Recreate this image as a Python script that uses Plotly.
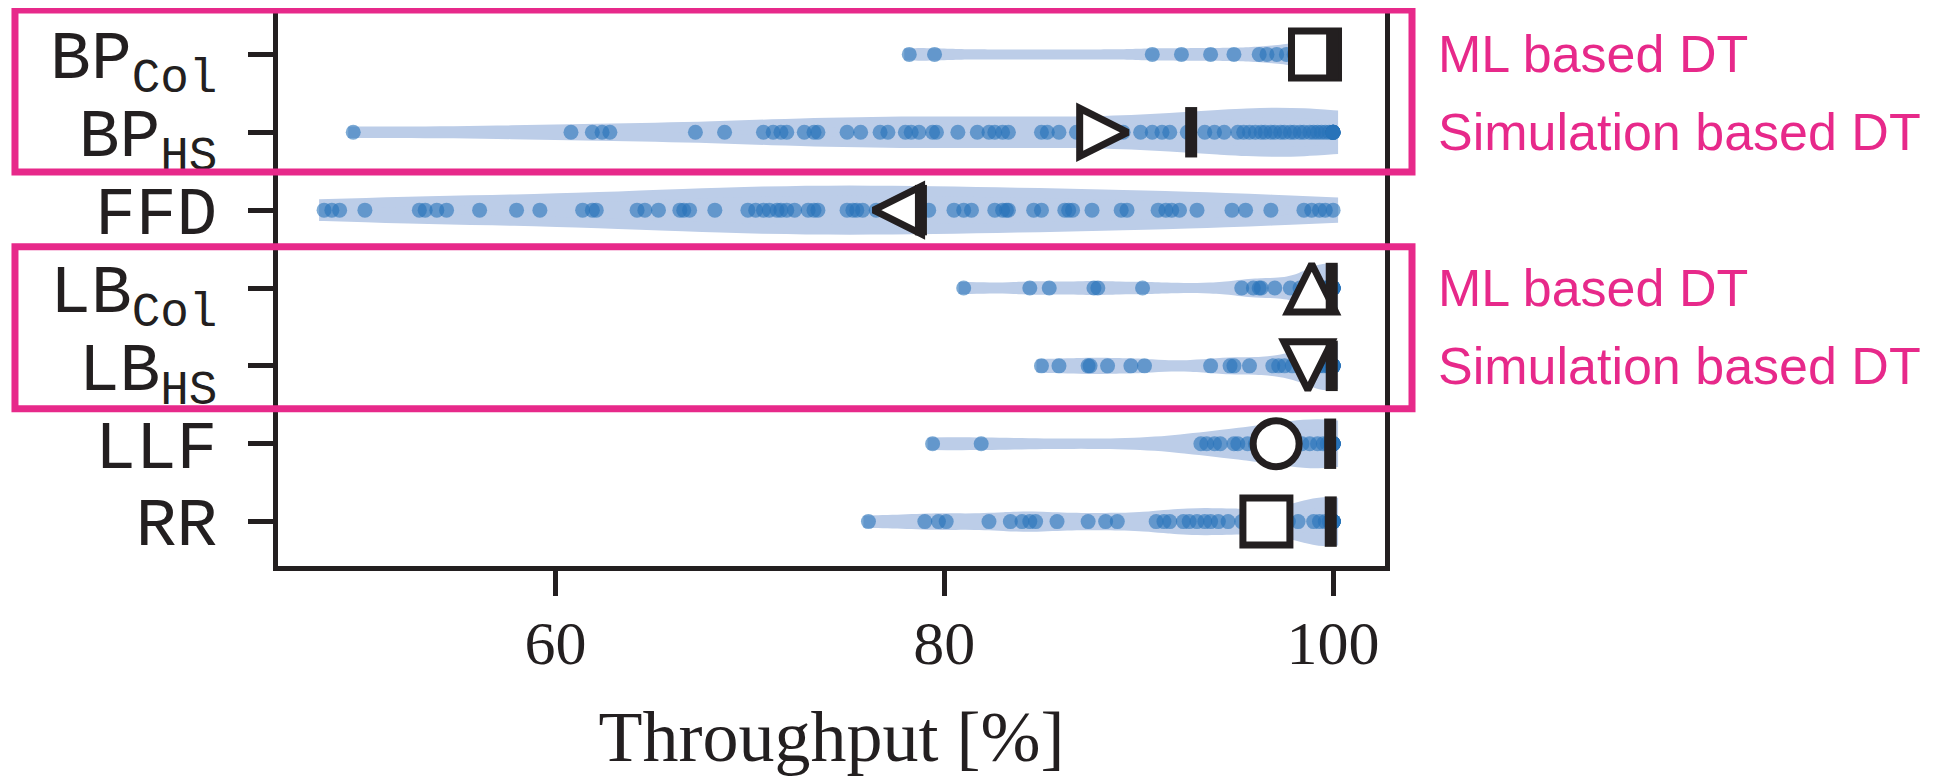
import numpy as np
import plotly.graph_objects as go

# ---------------- data ----------------
categories = ["BP<sub>Col</sub>", "BP<sub>HS</sub>", "FFD", "LB<sub>Col</sub>",
              "LB<sub>HS</sub>", "LLF", "RR"]

bp_col = [78.2, 79.5, 90.7, 92.2, 93.7, 94.9, 96.2, 96.6, 97.1, 97.6, 98.0, 98.3,
          98.6, 98.9, 99.1, 99.3, 99.5, 99.6, 99.7, 99.8, 99.9, 99.9,
          100.0, 100.0, 100.0, 100.0, 100.0, 100.0, 100.0, 100.0, 100.0, 100.0,
          100.0, 100.0, 100.0, 100.0, 100.0]

bp_hs = [49.6, 60.8, 61.9, 62.4, 62.8, 67.2, 68.7, 70.7, 71.2, 71.6, 71.9, 72.8,
         73.3, 73.5, 75.0, 75.7, 76.7, 77.1, 78.0, 78.3, 78.7, 79.4, 79.6, 80.7,
         81.7, 82.3, 82.6, 83.0, 83.3, 85.0, 85.3, 85.9, 86.8, 87.6, 88.4, 89.2,
         90.1, 90.7, 91.2, 91.6, 92.5, 93.4, 93.9, 94.4, 95.1, 95.4, 95.7, 96.0,
         96.3, 96.5, 96.8, 97.0, 97.3, 97.5, 97.8, 98.0, 98.3, 98.5, 98.8, 99.0,
         99.2, 99.4, 99.6, 99.8, 100.0, 100.0, 100.0, 100.0, 100.0, 100.0, 100.0,
         100.0]

ffd = [48.1, 48.5, 48.9, 50.2, 53.0, 53.3, 53.9, 54.4, 56.1, 58.0, 59.2, 61.4,
       61.9, 62.1, 64.2, 64.6, 65.3, 66.4, 66.6, 66.9, 68.2, 69.9, 70.3, 70.7,
       71.0, 71.4, 71.6, 71.9, 72.3, 73.0, 73.3, 73.5, 75.0, 75.3, 75.5, 75.8,
       76.5, 77.0, 77.8, 78.3, 79.2, 80.5, 81.0, 81.4, 82.6, 83.0, 83.2, 83.3,
       84.6, 85.0, 86.2, 86.4, 86.6, 87.6, 89.1, 89.4, 91.0, 91.4, 91.7, 92.1,
       93.0, 94.8, 95.5, 96.8, 98.5, 98.9, 99.3, 99.6, 100.0]

lb_col = [81.0, 84.4, 85.4, 87.7, 87.9, 90.2, 95.3, 95.9, 96.2, 96.3, 97.0, 97.8,
          98.3, 98.6, 98.9, 99.1, 99.3, 99.5, 99.6, 99.7, 99.8, 99.9,
          100.0, 100.0, 100.0, 100.0, 100.0, 100.0, 100.0, 100.0, 100.0, 100.0,
          100.0, 100.0]

lb_hs = [85.0, 85.9, 87.4, 87.5, 88.4, 89.6, 90.3, 93.7, 94.7, 94.9, 95.7, 96.9,
         97.2, 97.5, 97.9, 98.3, 98.6, 98.9, 99.1, 99.3, 99.5, 99.7, 99.8, 99.9,
         100.0, 100.0, 100.0, 100.0, 100.0, 100.0, 100.0, 100.0, 100.0, 100.0,
         100.0, 100.0]

llf = [79.4, 81.9, 93.2, 93.5, 93.9, 94.2, 94.9, 95.1, 95.6, 96.0, 96.4, 96.8,
       97.2, 97.6, 98.0, 98.4, 98.8, 99.2, 99.5, 99.7, 99.85,
       100.0, 100.0, 100.0, 100.0, 100.0, 100.0, 100.0, 100.0, 100.0, 100.0,
       100.0, 100.0, 100.0, 100.0]

rr = [76.1, 79.0, 79.7, 80.1, 82.3, 83.4, 84.0, 84.4, 84.7, 85.8, 87.4, 88.3,
      88.9, 90.9, 91.3, 91.6, 92.3, 92.6, 93.0, 93.4, 93.7, 94.1, 94.6, 95.3,
      95.8, 96.3, 96.8, 97.3, 97.7, 98.2, 99.0, 99.3, 99.6, 99.8,
      100.0, 100.0, 100.0, 100.0, 100.0, 100.0, 100.0, 100.0, 100.0, 100.0,
      100.0, 100.0, 100.0, 100.0]

series = [bp_col, bp_hs, ffd, lb_col, lb_hs, llf, rr]

mean_values = [99.07, 88.2, 77.6, 98.9, 98.7, 97.07, 96.57]
median_values = [99.95, 92.7, 78.8, 99.93, 99.93, 99.85, 99.88]

x_ticks = [60, 80, 100]
x_title = "Throughput [%]"
group_labels = ["ML based DT", "Simulation based DT", "ML based DT", "Simulation based DT"]
group_label_rows = [0, 1, 3, 4]
box_row_groups = [(0, 1), (3, 4)]

# ---------------- style ----------------
# arrow-* symbols have their tip at the anchor; tip_dir = direction of the tip
mean_symbols = ["square", "arrow-right", "arrow-left", "arrow-up",
                "arrow-down", "circle", "square"]
mean_sizes = [47, 48, 48, 48, 48, 46, 47]
tip_dir = [(0, 0), (1, 0), (-1, 0), (0, -1), (0, 1), (0, 0), (0, 0)]
bandwidths = [0.9, 4.5, 6.5, 1.0, 1.0, 2.3, 1.5]

VIOLIN = "#bccde8"
DOT = "rgba(40,115,185,0.6)"
INK = "#231f20"
PINK = "#e7298a"
X_RANGE = [45.73, 102.67]
Y_RANGE = [6.57, -0.57]

W, H = 1936, 769
M = dict(l=270, r=559, t=2, b=211)
px_per_x = (W - M["l"] - M["r"]) / (X_RANGE[1] - X_RANGE[0])
px_per_y = (H - M["t"] - M["b"]) / (Y_RANGE[0] - Y_RANGE[1])

fig = go.Figure()

for i, vals in enumerate(series):
    fig.add_trace(go.Violin(
        x=vals, y0=i, orientation="h", width=0.5, scalemode="width",
        spanmode="hard", bandwidth=bandwidths[i], points=False,
        fillcolor=VIOLIN, line=dict(color=VIOLIN, width=10),
        box_visible=False, meanline_visible=False, hoverinfo="skip"))

for i, vals in enumerate(series):
    fig.add_trace(go.Scatter(
        x=vals, y=[i] * len(vals), mode="markers",
        marker=dict(size=15, color=DOT, line=dict(width=0), opacity=1),
        hoverinfo="skip"))

rows = list(range(len(categories)))

# mean markers: centre each marker's bounding box on (mean, row)
mx = [m + d[0] * s / 2 / px_per_x for m, d, s in zip(mean_values, tip_dir, mean_sizes)]
my = [r + d[1] * s / 2 / px_per_y for r, d, s in zip(rows, tip_dir, mean_sizes)]
fig.add_trace(go.Scatter(
    x=mx, y=my, mode="markers",
    marker=dict(symbol=mean_symbols, size=mean_sizes, color="white", opacity=1,
                line=dict(color=INK, width=7)),
    hoverinfo="skip", cliponaxis=False))

# median bars drawn on top
fig.add_trace(go.Scatter(
    x=median_values, y=rows, mode="markers",
    marker=dict(symbol="line-ns", size=36, opacity=1,
                line=dict(color=INK, width=12)),
    hoverinfo="skip"))


def ypaper(v):
    return (Y_RANGE[0] - v) / (Y_RANGE[0] - Y_RANGE[1])


pads = [(0.57, 0.51), (0.53, 0.55)]
for (r0, r1), (pt, pb) in zip(box_row_groups, pads):
    fig.add_shape(type="rect", xref="paper", yref="paper",
                  x0=-0.2376, x1=1.0244, y0=ypaper(r1 + pb), y1=ypaper(r0 - pt),
                  line=dict(color=PINK, width=7), fillcolor="rgba(0,0,0,0)",
                  layer="above")

for txt, r in zip(group_labels, group_label_rows):
    fig.add_annotation(text=txt, xref="paper", yref="y", x=1.046, y=r,
                       xanchor="left", yanchor="middle", showarrow=False,
                       font=dict(family="Liberation Sans", size=52, color=PINK))

# page body has an 8px default margin: figure is sized/offset to compensate
fig.update_layout(
    width=W, height=H, margin=M,
    plot_bgcolor="white", paper_bgcolor="white",
    showlegend=False, violinmode="overlay",
)

fig.update_xaxes(
    range=X_RANGE, tickvals=x_ticks, ticktext=[str(t) for t in x_ticks],
    automargin=False,
    showline=True, mirror=True, linewidth=5, linecolor=INK,
    ticks="outside", ticklen=25, tickwidth=5, tickcolor=INK,
    showgrid=False, zeroline=False, ticklabelstandoff=-6,
    tickfont=dict(family="Liberation Serif", size=62, color=INK),
    title=dict(text=x_title, standoff=45,
               font=dict(family="Liberation Serif", size=72, color=INK)),
)

fig.update_yaxes(
    range=Y_RANGE, tickvals=rows, ticktext=categories,
    automargin=False,
    showline=True, mirror=True, linewidth=5, linecolor=INK,
    ticks="outside", ticklen=25, tickwidth=5, tickcolor=INK,
    showgrid=False, zeroline=False, ticklabelstandoff=17,
    tickfont=dict(family="Liberation Mono", size=68, color=INK),
)

fig.write_html("out.html")
